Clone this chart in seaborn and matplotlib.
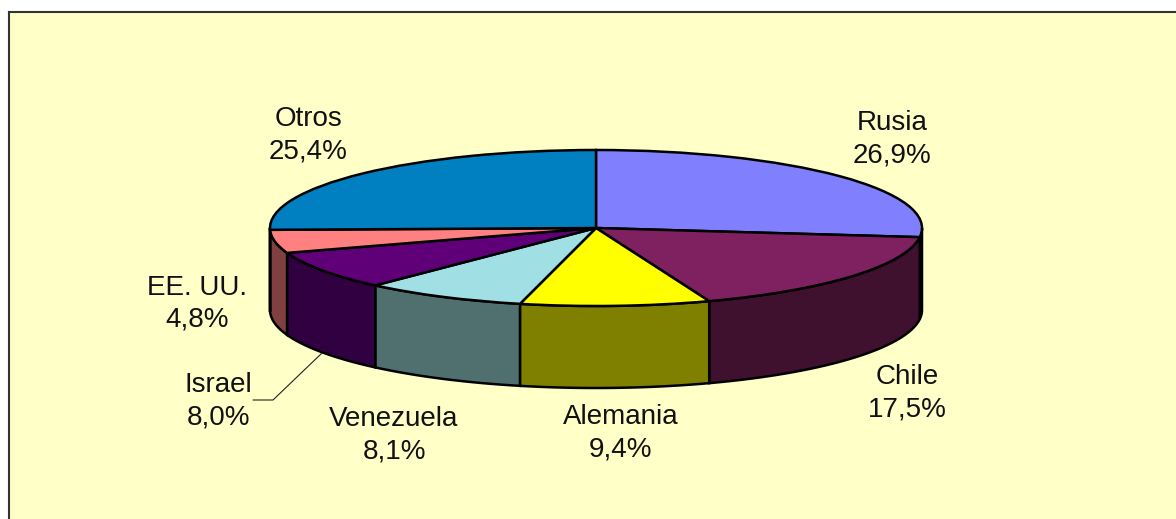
import numpy as np
import seaborn as sns
import matplotlib
matplotlib.use("Agg")
import matplotlib.pyplot as plt

# datos
paises = ["Rusia", "Chile", "Alemania", "Venezuela", "Israel", "EE. UU.", "Otros"]
valores = [26.9, 17.5, 9.4, 8.1, 8.0, 4.8, 25.4]

colores_tapa = ["#8080FF", "#7F2060", "#FFFF00", "#A0E0E4", "#600078", "#FF8080", "#0080C0"]
colores_lado = ["#404080", "#40102F", "#808000", "#507070", "#300040", "#804040", "#004060"]

# posicion de las etiquetas en pixeles (x, y desde arriba)
pos_etiquetas = [(892, 139), (907, 393), (621, 433), (394, 435), (218, 401), (197, 304), (308, 135)]

W, H = 1176, 519
CX, CY = 596, 228
RX, RY = 326, 78
PROF = 82 / RY  # altura del cilindro
IZQ, ARR = 9, 12

sns.set_theme(style="white")
plt.rcParams["font.family"] = ["Liberation Sans", "DejaVu Sans"]

fig = plt.figure(figsize=(W / 100, H / 100), dpi=100, facecolor="white")
ax = fig.add_axes([IZQ / W, 0, (W - IZQ) / W, (H - ARR) / H])

wedges, _ = ax.pie(valores, colors=colores_tapa, startangle=90, counterclock=False,
                   wedgeprops={"edgecolor": "black", "linewidth": 1.8, "zorder": 3})

ax.set_aspect("auto")
ax.set_xlim((IZQ - CX) / RX, (W - CX) / RX)
ax.set_ylim((CY - H) / RY, (CY - ARR) / RY)
ax.set_facecolor("#FFFFC8")
ax.set_frame_on(True)
for lado in ["right", "bottom"]:
    ax.spines[lado].set_visible(False)
for lado in ["top", "left"]:
    ax.spines[lado].set_visible(True)
    ax.spines[lado].set_color("#333333")
    ax.spines[lado].set_linewidth(1.5)


def px(x, y):
    return (x - CX) / RX, (CY - y) / RY


# pared del cilindro, solo la parte de adelante
for w, color in zip(wedges, colores_lado):
    t1 = max(w.theta1, -180)
    t2 = min(w.theta2, 0)
    if t2 <= t1:
        continue
    t = np.radians(np.linspace(t1, t2, 80))
    xs = np.concatenate([np.cos(t), np.cos(t[::-1])])
    ys = np.concatenate([np.sin(t), np.sin(t[::-1]) - PROF])
    ax.fill(xs, ys, facecolor=color, edgecolor="black", linewidth=1.8, zorder=2)

# etiquetas
for pais, val, (x, y) in zip(paises, valores, pos_etiquetas):
    txt = pais + "\n" + f"{val:.1f}%".replace(".", ",")
    ax.text(*px(x, y), txt, ha="center", va="center", fontsize=20, linespacing=1.3,
            color="#111111", zorder=5)

# linea guia de Israel
guia = [px(322, 353), px(273, 400), px(253, 400)]
ax.plot([p[0] for p in guia], [p[1] for p in guia], color="#222222", lw=0.8, zorder=4)

fig.savefig("out.png", dpi=100, facecolor="white")
